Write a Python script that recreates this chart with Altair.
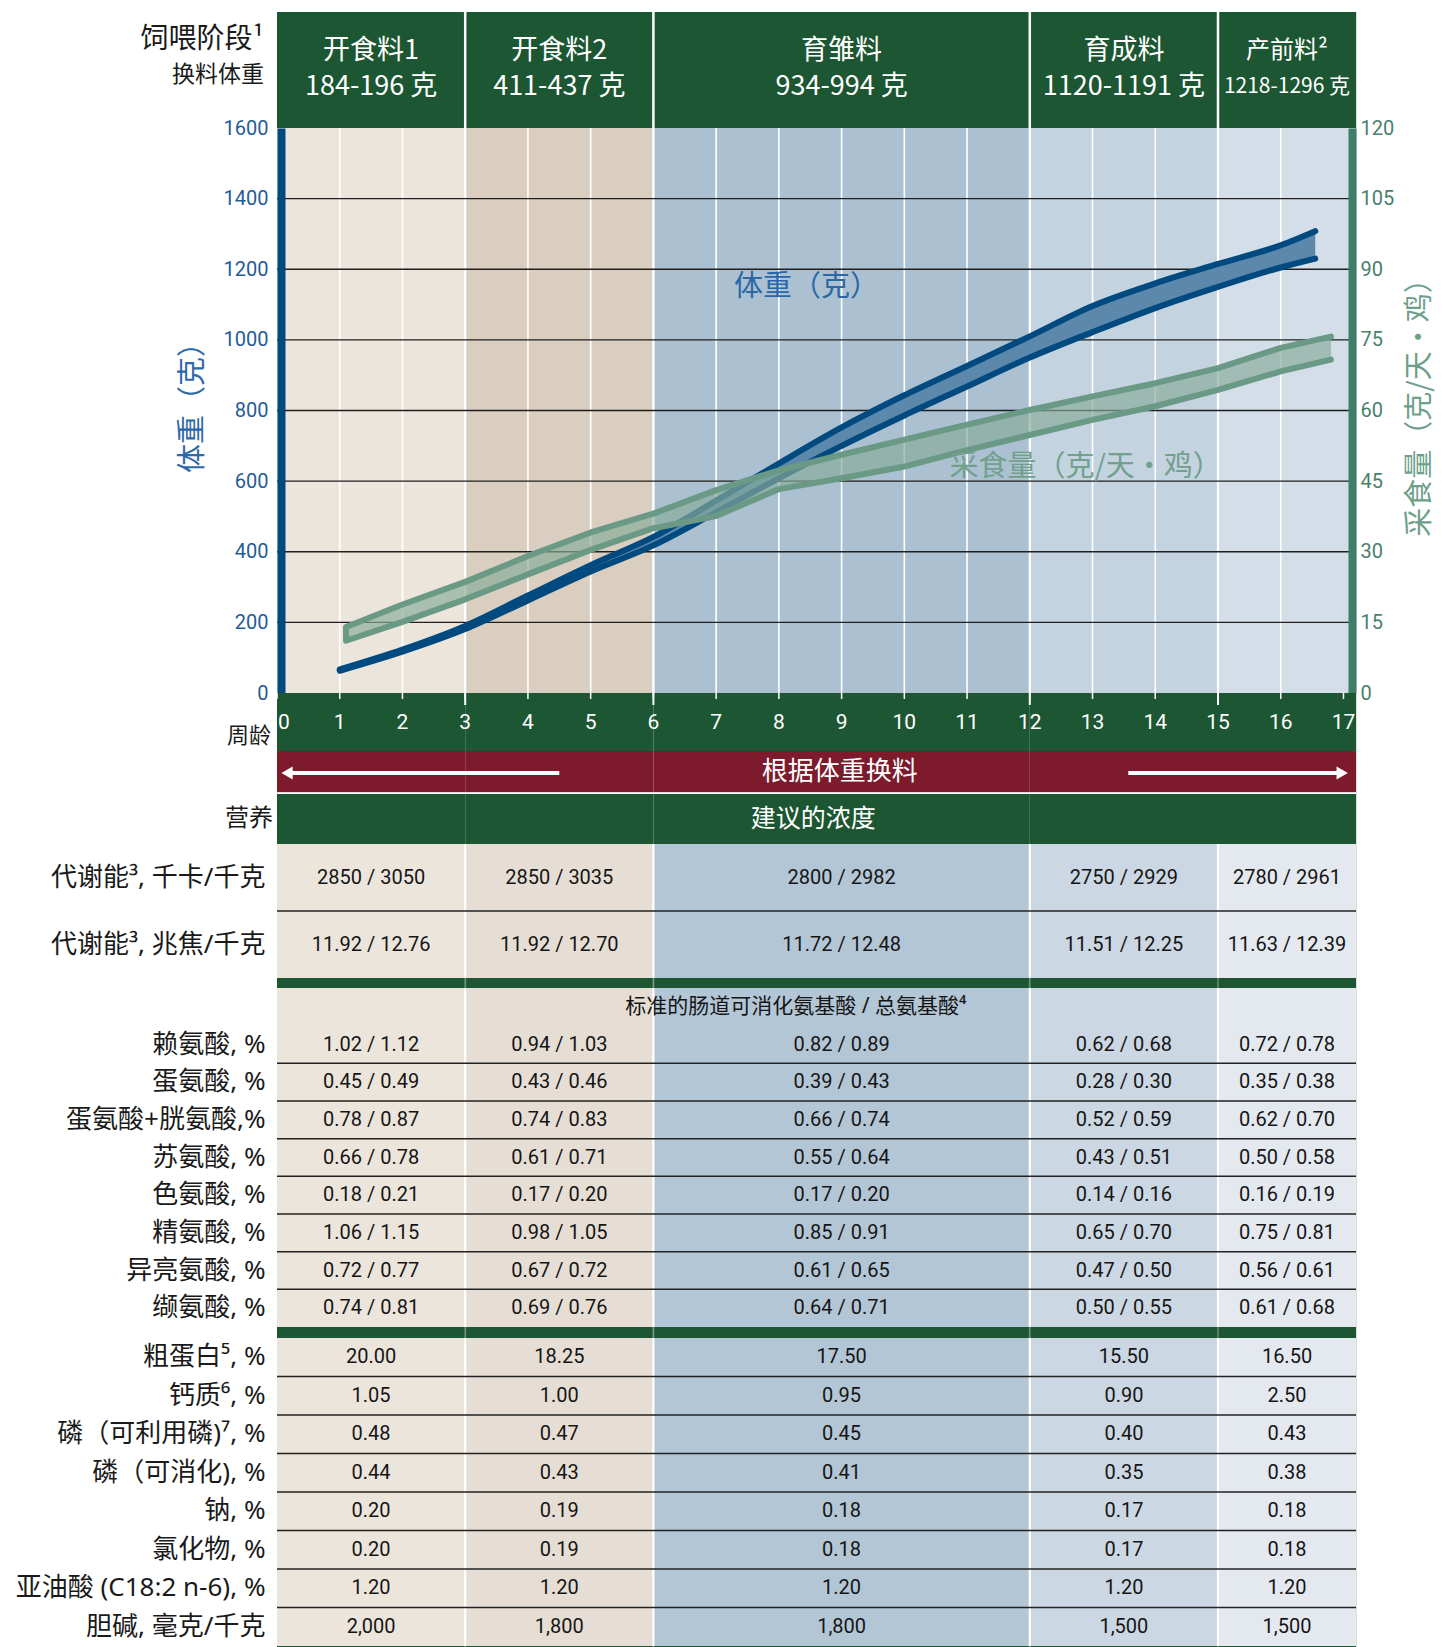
import altair as alt
import pandas as pd

# ---------------- data ----------------
phase_names = ["开食料1", "开食料2", "育雏料", "育成料", "产前料²"]
phase_weights = ["184-196 克", "411-437 克", "934-994 克", "1120-1191 克", "1218-1296 克"]
phase_start = [0, 3, 6, 12, 15]
phase_end = [3, 6, 12, 15, 17.2]
phase_bounds = [3, 6, 12, 15]

bw_weeks = [1, 2, 3, 4, 5, 6, 7, 8, 9, 10, 11, 12, 13, 14, 15, 16, 16.55]
bw_low = [63, 117, 181, 262, 344, 418, 512, 608, 700, 786, 868, 950, 1022, 1090, 1150, 1205, 1230]
bw_high = [67, 123, 190, 276, 362, 442, 545, 650, 752, 843, 926, 1010, 1096, 1160, 1215, 1268, 1308]

feed_weeks = [1.1, 2, 3, 4, 5, 6, 7, 8, 9, 10, 11, 12, 13, 14, 15, 16, 16.8]
feed_low = [11.1, 15.1, 19.9, 25.2, 30.4, 35.0, 37.6, 43.3, 45.6, 48.1, 51.6, 54.8, 58.0, 60.9, 64.4, 68.3, 70.8]
feed_high = [14.0, 18.8, 23.6, 29.1, 34.1, 38.1, 43.1, 47.3, 50.6, 53.8, 57.0, 60.1, 63.0, 65.8, 69.0, 73.3, 75.7]

age_weeks = list(range(0, 18))
bw_ticks = list(range(0, 1601, 200))
feed_ticks = list(range(0, 121, 15))

energy_rows = ["代谢能³, 千卡/千克", "代谢能³, 兆焦/千克"]
energy_vals = [
    ["2850 / 3050", "2850 / 3035", "2800 / 2982", "2750 / 2929", "2780 / 2961"],
    ["11.92 / 12.76", "11.92 / 12.70", "11.72 / 12.48", "11.51 / 12.25", "11.63 / 12.39"],
]
amino_header = "标准的肠道可消化氨基酸 / 总氨基酸⁴"
amino_rows = ["赖氨酸, %", "蛋氨酸, %", "蛋氨酸+胱氨酸,%", "苏氨酸, %", "色氨酸, %",
              "精氨酸, %", "异亮氨酸, %", "缬氨酸, %"]
amino_vals = [
    ["1.02 / 1.12", "0.94 / 1.03", "0.82 / 0.89", "0.62 / 0.68", "0.72 / 0.78"],
    ["0.45 / 0.49", "0.43 / 0.46", "0.39 / 0.43", "0.28 / 0.30", "0.35 / 0.38"],
    ["0.78 / 0.87", "0.74 / 0.83", "0.66 / 0.74", "0.52 / 0.59", "0.62 / 0.70"],
    ["0.66 / 0.78", "0.61 / 0.71", "0.55 / 0.64", "0.43 / 0.51", "0.50 / 0.58"],
    ["0.18 / 0.21", "0.17 / 0.20", "0.17 / 0.20", "0.14 / 0.16", "0.16 / 0.19"],
    ["1.06 / 1.15", "0.98 / 1.05", "0.85 / 0.91", "0.65 / 0.70", "0.75 / 0.81"],
    ["0.72 / 0.77", "0.67 / 0.72", "0.61 / 0.65", "0.47 / 0.50", "0.56 / 0.61"],
    ["0.74 / 0.81", "0.69 / 0.76", "0.64 / 0.71", "0.50 / 0.55", "0.61 / 0.68"],
]
other_rows = ["粗蛋白⁵, %", "钙质⁶, %", "磷（可利用磷)⁷, %", "磷（可消化), %", "钠, %",
              "氯化物, %", "亚油酸 (C18:2 n-6), %", "胆碱, 毫克/千克"]
other_vals = [
    ["20.00", "18.25", "17.50", "15.50", "16.50"],
    ["1.05", "1.00", "0.95", "0.90", "2.50"],
    ["0.48", "0.47", "0.45", "0.40", "0.43"],
    ["0.44", "0.43", "0.41", "0.35", "0.38"],
    ["0.20", "0.19", "0.18", "0.17", "0.18"],
    ["0.20", "0.19", "0.18", "0.17", "0.18"],
    ["1.20", "1.20", "1.20", "1.20", "1.20"],
    ["2,000", "1,800", "1,800", "1,500", "1,500"],
]

# ---------------- style ----------------
CJK = "Noto Sans CJK SC"
NUM = "Roboto, Noto Sans, sans-serif"
LABELF = "Noto Sans, Noto Sans CJK SC, sans-serif"
GREEN = "#1D5632"
RED = "#7D1A2B"
BLUE_DARK = "#004A80"
BLUE_FILL = "#5C88AC"
FEED_LINE = "#6A9A86"
FEED_FILL = "#87AC9A"
chart_bg = ["#ECE5DC", "#D9CEBF", "#ABC0D1", "#C4D3E0", "#D4DEE8"]
table_bg = ["#ECE5DC", "#E6DED4", "#B3C6D5", "#CBD7E2", "#E4E9F0"]
name_sizes = [27, 27, 27, 27, 24]
weight_sizes = [27, 27, 27, 27, 21]
W = 1079
XMAX = 17.2

xs = alt.Scale(domain=[0, XMAX], nice=False, zero=False)


def X(f):
    return alt.X(f, scale=xs, axis=None)


ph = pd.DataFrame({
    "start": phase_start,
    "end": phase_end,
    "mid": [(s + e) / 2 for s, e in zip(phase_start, phase_end)],
    "cbg": chart_bg,
    "tbg": table_bg,
    "name": phase_names,
    "wt": phase_weights,
    "fs1": name_sizes,
    "fs2": weight_sizes,
})
bd = pd.DataFrame({"b": phase_bounds})

# ---------------- header ----------------
header = alt.layer(
    alt.Chart(ph).mark_rect(color=GREEN).encode(x=X("start:Q"), x2="end:Q"),
    alt.Chart(bd).mark_rule(color="white", strokeWidth=2.5).encode(x=X("b:Q")),
    alt.Chart(ph).mark_text(color="white", font=CJK, baseline="middle").encode(
        x=X("mid:Q"), y=alt.value(39), text="name:N",
        size=alt.Size("fs1:Q", scale=None, legend=None)),
    alt.Chart(ph).mark_text(color="white", font=CJK, baseline="middle").encode(
        x=X("mid:Q"), y=alt.value(75), text="wt:N",
        size=alt.Size("fs2:Q", scale=None, legend=None)),
    alt.Chart(pd.DataFrame({"t": ["饲喂阶段¹"]})).mark_text(
        align="right", font=CJK, fontSize=28, color="#1a1a1a", baseline="middle").encode(
        x=alt.value(-13), y=alt.value(28), text="t:N"),
    alt.Chart(pd.DataFrame({"t": ["换料体重"]})).mark_text(
        align="right", font=CJK, fontSize=23, color="#1a1a1a", baseline="middle").encode(
        x=alt.value(-13), y=alt.value(63), text="t:N"),
).properties(width=W, height=116)

# ---------------- main plot ----------------
yW = alt.Scale(domain=[0, 1600], nice=False, zero=True)
axW = alt.Axis(values=bw_ticks, format="d", orient="left", title="体重（克）", titleFont=CJK,
               titleFontSize=29, titleFontWeight="normal", titleColor="#2C69A8",
               titleAngle=270, titlePadding=16, titleY=272, labelFont=NUM, labelFontSize=20,
               labelColor="#1F5C99", labelPadding=13, ticks=False, domainColor=BLUE_DARK,
               domainWidth=8, offset=-4, grid=False, zindex=1)
yF = alt.Scale(domain=[0, 120], nice=False, zero=True)
axF = alt.Axis(values=feed_ticks, format="d", orient="right", title="采食量（克/天・鸡）",
               titleFont=CJK, titleFontSize=29, titleFontWeight="normal", titleColor="#6E9F8B",
               titleAngle=270, titleBaseline="top", titlePadding=12, titleY=272, labelFont=NUM,
               labelFontSize=20, labelColor="#4A806C", labelPadding=8, ticks=False,
               domainColor="#3F7F6A", domainWidth=8, offset=-4, grid=False, zindex=1)

n_bw = len(bw_weeks)
bw_df = pd.DataFrame({"w": bw_weeks, "lo": bw_low, "hi": bw_high})
bw_long = pd.DataFrame({"w": bw_weeks * 2, "v": bw_low + bw_high,
                        "s": ["lo"] * n_bw + ["hi"] * n_bw})
feed_df = pd.DataFrame({"w": feed_weeks, "lo": feed_low, "hi": feed_high})
outline_w = feed_weeks[::-1] + feed_weeks
outline_v = feed_low[::-1] + feed_high
feed_outline = pd.DataFrame({"w": outline_w, "v": outline_v, "o": list(range(len(outline_w)))})

weight_group = alt.layer(
    alt.Chart(ph).mark_rect().encode(x=X("start:Q"), x2="end:Q",
                                      color=alt.Color("cbg:N", scale=None)),
    alt.Chart(pd.DataFrame({"w": list(range(1, 17))})).mark_rule(
        color="white", strokeWidth=1.6).encode(x=X("w:Q")),
    alt.Chart(bd).mark_rule(color="white", strokeWidth=2.2).encode(x=X("b:Q")),
    alt.Chart(pd.DataFrame({"g": bw_ticks[1:-1]})).mark_rule(
        color="#1f1f1f", strokeWidth=1.4).encode(y=alt.Y("g:Q", scale=yW, axis=axW)),
    alt.Chart(bw_df).mark_area(color=BLUE_FILL, interpolate="monotone").encode(
        x=X("w:Q"), y=alt.Y("lo:Q", scale=yW, axis=axW), y2="hi:Q"),
    alt.Chart(bw_long).mark_line(color=BLUE_DARK, strokeWidth=6, strokeCap="round",
                                 strokeJoin="round", interpolate="monotone").encode(
        x=X("w:Q"), y=alt.Y("v:Q", scale=yW, axis=axW), detail="s:N"),
    alt.Chart(pd.DataFrame({"w": [8.44], "v": [1150], "t": ["体重（克）"]})).mark_text(
        font=CJK, fontSize=29, color="#2C68A7", baseline="middle").encode(
        x=X("w:Q"), y=alt.Y("v:Q", scale=yW, axis=axW), text="t:N"),
)

feed_group = alt.layer(
    alt.Chart(feed_df).mark_area(color=FEED_FILL, opacity=0.67).encode(
        x=X("w:Q"), y=alt.Y("lo:Q", scale=yF, axis=axF), y2="hi:Q"),
    alt.Chart(feed_outline).mark_line(color=FEED_LINE, strokeWidth=6, strokeCap="round",
                                      strokeJoin="round").encode(
        x=X("w:Q"), y=alt.Y("v:Q", scale=yF, axis=axF), order="o:Q"),
    alt.Chart(pd.DataFrame({"w": [12.89], "v": [48.1], "t": ["采食量（克/天・鸡）"]})).mark_text(
        font=CJK, fontSize=29, color="#72A08D", baseline="middle").encode(
        x=X("w:Q"), y=alt.Y("v:Q", scale=yF, axis=axF), text="t:N"),
)

main = alt.layer(weight_group, feed_group).resolve_scale(y="independent").properties(
    width=W, height=565)

# ---------------- week band ----------------
wk = pd.DataFrame({"w": age_weeks, "lab": [str(a) for a in age_weeks]})
xband = alt.layer(
    alt.Chart(ph).mark_rect(color=GREEN).encode(x=X("start:Q"), x2="end:Q"),
    alt.Chart(wk).mark_rule(color="white", strokeWidth=1.5).encode(
        x=X("w:Q"), y=alt.value(0), y2=alt.value(6)),
    alt.Chart(bd).mark_rule(color="white", strokeWidth=2).encode(
        x=X("b:Q"), y=alt.value(0), y2=alt.value(12)),
    alt.Chart(wk).transform_filter("datum.w > 0").mark_text(
        color="white", font=NUM, fontSize=21, baseline="middle").encode(
        x=X("w:Q"), y=alt.value(30), text="lab:N"),
    alt.Chart(wk).transform_filter("datum.w == 0").mark_text(
        color="white", font=NUM, fontSize=21, baseline="middle", align="left", dx=1).encode(
        x=X("w:Q"), y=alt.value(30), text="lab:N"),
    alt.Chart(pd.DataFrame({"t": ["周龄"]})).mark_text(
        align="right", font=CJK, fontSize=22, color="#1a1a1a", baseline="middle").encode(
        x=alt.value(-6), y=alt.value(43), text="t:N"),
).properties(width=W, height=58)

# ---------------- red band ----------------
arrows = pd.DataFrame({"a": [0.22, 13.57], "b": [4.5, 16.92]})
heads = pd.DataFrame({"x": [0.16, 16.98], "shape": ["triangle-left", "triangle-right"]})
redband = alt.layer(
    alt.Chart(ph).mark_rect(color=RED).encode(x=X("start:Q"), x2="end:Q"),
    alt.Chart(arrows).mark_rule(color="white", strokeWidth=4).encode(
        x=X("a:Q"), x2="b:Q", y=alt.value(22)),
    alt.Chart(heads).mark_point(filled=True, color="white", opacity=1, size=170).encode(
        x=X("x:Q"), y=alt.value(22), shape=alt.Shape("shape:N", scale=None, legend=None)),
    alt.Chart(pd.DataFrame({"x": [8.97], "t": ["根据体重换料"]})).mark_text(
        color="white", font=CJK, fontSize=26, baseline="middle").encode(
        x=X("x:Q"), y=alt.value(21), text="t:N"),
).properties(width=W, height=41)

# ---------------- nutrition header band ----------------
gband = alt.layer(
    alt.Chart(ph).mark_rect(color=GREEN).encode(
        x=X("start:Q"), x2="end:Q", y=alt.value(2), y2=alt.value(52)),
    alt.Chart(pd.DataFrame({"x": [8.55], "t": ["建议的浓度"]})).mark_text(
        color="white", font=CJK, fontSize=25, baseline="middle").encode(
        x=X("x:Q"), y=alt.value(27), text="t:N"),
    alt.Chart(pd.DataFrame({"t": ["营养"]})).mark_text(
        align="right", font=CJK, fontSize=24, color="#1a1a1a", baseline="middle").encode(
        x=alt.value(-4), y=alt.value(27), text="t:N"),
).properties(width=W, height=52)


# ---------------- table panels ----------------
def table_panel(rows, vals, height, sep_rows, top_label=None):
    domain = ([" "] if top_label else []) + rows
    ys = alt.Scale(type="band", domain=domain, paddingInner=0, paddingOuter=0)
    axT = alt.Axis(title=None, ticks=False, domain=False, labelFont=LABELF, labelFontSize=26,
                   labelColor="#1a1a1a", labelPadding=12, labelLimit=600, grid=False)
    mids = ph["mid"].tolist()
    cells = pd.DataFrame([{"row": r, "mid": mids[j], "v": vals[i][j]}
                          for i, r in enumerate(rows) for j in range(5)])
    seps = pd.DataFrame({"row": sep_rows})
    layers = [
        alt.Chart(ph).mark_rect().encode(x=X("start:Q"), x2="end:Q",
                                          color=alt.Color("tbg:N", scale=None)),
        alt.Chart(bd).mark_rule(color="white", strokeWidth=2.2).encode(x=X("b:Q")),
        alt.Chart(seps).mark_rule(color="#222222", strokeWidth=1.5).encode(
            y=alt.Y("row:N", scale=ys, axis=axT, bandPosition=1)),
        alt.Chart(cells).mark_text(font=NUM, fontSize=20, color="#151515",
                                   baseline="middle").encode(
            x=X("mid:Q"), y=alt.Y("row:N", scale=ys, axis=axT), text="v:N"),
    ]
    if top_label:
        layers.append(
            alt.Chart(pd.DataFrame({"row": [" "], "x": [8.27], "t": [top_label]})).mark_text(
                font=LABELF, fontSize=21, color="#151515", baseline="middle").encode(
                x=X("x:Q"), y=alt.Y("row:N", scale=ys, axis=axT), text="t:N"))
    return alt.layer(*layers).properties(width=W, height=height)


def green_bar(h):
    return alt.layer(
        alt.Chart(ph).mark_rect(color=GREEN).encode(x=X("start:Q"), x2="end:Q"),
        alt.Chart(bd).mark_rule(color="white", strokeOpacity=0.25, strokeWidth=2).encode(
            x=X("b:Q")),
    ).properties(width=W, height=h)


t1 = table_panel(energy_rows, energy_vals, 134, energy_rows[:1])
t3 = table_panel(amino_rows, amino_vals, 339, amino_rows[:-1], top_label=amino_header)
t5 = table_panel(other_rows, other_vals, 308, other_rows[:-1])

chart = alt.vconcat(
    header, main, xband, redband, gband, t1, green_bar(10), t3, green_bar(11), t5, green_bar(10),
    spacing=0, bounds="flush",
).resolve_scale(x="independent", y="independent").properties(
    padding={"left": 6, "top": 2, "right": 0, "bottom": 0}
).configure_view(stroke=None).configure(background="white")

chart.save("out.html", embed_options={"renderer": "svg", "actions": False})
